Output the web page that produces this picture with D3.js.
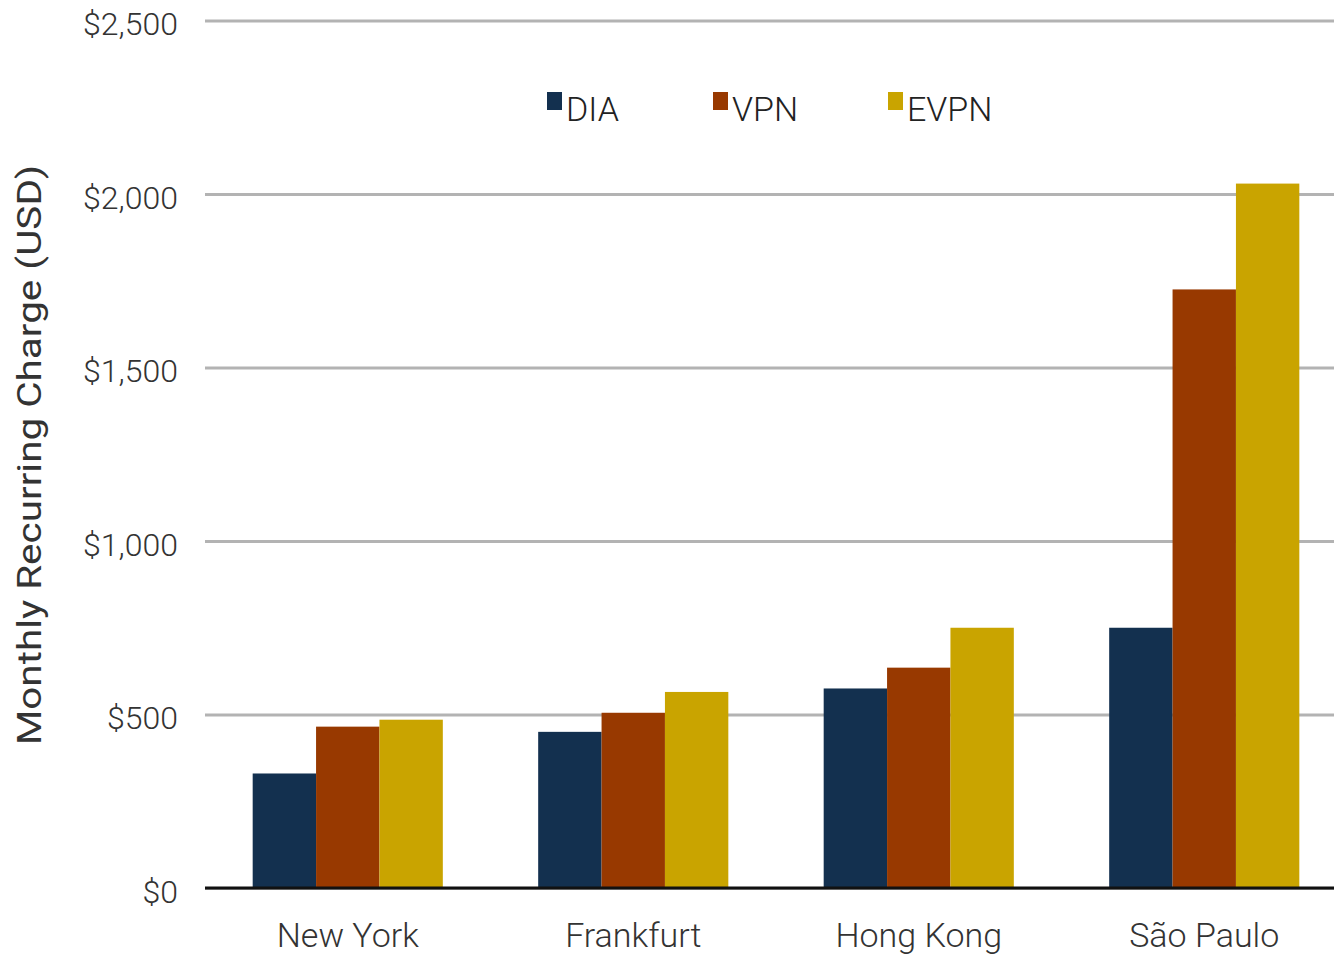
<!DOCTYPE html>
<html>
<head>
<meta charset="utf-8"/>
<title>Monthly Recurring Charge</title>
<style>
	body { margin: 0; background: #fff; }
	svg text { font-family: Roboto, "Liberation Sans", sans-serif; }
</style>
</head>
<body>
<svg width="1334" height="958" id="viz"></svg>
<script src="https://d3js.org/d3.v7.min.js"></script>
<script>
	// data
	var cities = ["New York", "Frankfurt", "Hong Kong", "São Paulo"];
	var series = ["DIA", "VPN", "EVPN"];
	var dia  = [330, 450, 575, 750];
	var vpn  = [465, 505, 635, 1725];
	var evpn = [485, 565, 750, 2030];
	var yTicks = [0, 500, 1000, 1500, 2000, 2500];
	var colors = ["#13304f", "#983900", "#c9a400"];

	var rows = cities.map(function(c, i) {
		return {city: c, values: [dia[i], vpn[i], evpn[i]]};
	});

	const width = 1334, height = 958,
		margin = {left: 205, right: -13, top: 20.5, bottom: 70};
	const plotBottom = height - margin.bottom;

	var svg = d3.select("#viz");

	var x0 = d3.scaleBand().domain(cities).range([margin.left, width - margin.right])
		.paddingInner(0.334).paddingOuter(0.167);
	var x1 = d3.scaleBand().domain(series).range([0, x0.bandwidth()]).padding(0);
	var y = d3.scaleLinear().domain([0, 2500]).range([plotBottom, margin.top]);
	var c = d3.scaleOrdinal().domain(series).range(colors);

	// gridlines + tick labels
	var yAxis = svg.append("g")
		.attr("transform", `translate(${margin.left},0)`)
		.call(d3.axisLeft(y).tickValues(yTicks)
			.tickSize(-(width - margin.left))
			.tickPadding(27)
			.tickFormat(d => "$" + d3.format(",")(d)));
	yAxis.select(".domain").remove();
	yAxis.selectAll(".tick line").attr("stroke", "#b3b3b3").attr("stroke-width", 3);
	yAxis.selectAll(".tick text")
		.attr("fill", "#333")
		.attr("font-size", 32)
		.attr("font-weight", 300)
		.attr("dy", "0.45em");

	// bars
	var groups = svg.append("g").selectAll("g")
		.data(rows)
		.join("g")
		.attr("transform", d => `translate(${x0(d.city)},0)`);

	groups.selectAll("rect")
		.data(d => d.values.map((v, i) => ({key: series[i], value: v})))
		.join("rect")
		.attr("x", d => x1(d.key))
		.attr("y", d => y(d.value))
		.attr("width", x1.bandwidth())
		.attr("height", d => y(0) - y(d.value))
		.attr("fill", d => c(d.key));

	// baseline
	svg.append("line")
		.attr("x1", margin.left).attr("x2", width)
		.attr("y1", y(0)).attr("y2", y(0))
		.attr("stroke", "#111").attr("stroke-width", 3);

	// x axis labels
	var xAxis = svg.append("g")
		.attr("transform", `translate(0,${plotBottom})`)
		.call(d3.axisBottom(x0).tickSize(0).tickPadding(35));
	xAxis.select(".domain").remove();
	xAxis.selectAll(".tick text")
		.attr("fill", "#333")
		.attr("font-size", 34)
		.attr("font-weight", 300);

	// y title
	svg.append("text")
		.attr("transform", `translate(41,455) rotate(-90)`)
		.attr("text-anchor", "middle")
		.attr("fill", "#333")
		.attr("font-size", 33)
		.attr("textLength", 580)
		.attr("lengthAdjust", "spacingAndGlyphs")
		.text("Monthly Recurring Charge (USD)");

	// legend
	var legendX = [547, 713, 888];
	var legend = svg.append("g").selectAll("g")
		.data(series)
		.join("g")
		.attr("transform", (d, i) => `translate(${legendX[i]},0)`);
	legend.append("rect")
		.attr("x", 0).attr("y", 92)
		.attr("width", 15).attr("height", 18)
		.attr("fill", d => c(d));
	legend.append("text")
		.attr("x", 19).attr("y", 121)
		.attr("fill", "#222")
		.attr("font-size", 34)
		.attr("font-weight", 300)
		.text(d => d);
</script>
</body>
</html>
